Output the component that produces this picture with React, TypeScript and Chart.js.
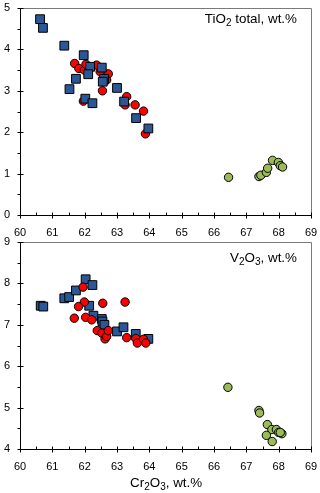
import React, { useEffect, useRef } from 'react';
import { Chart, registerables } from 'chart.js';
Chart.register(...registerables);

const FONT = "'Liberation Sans', Arial, sans-serif";

// TiO2 total panel
const blueX1 = [60.62, 60.71, 61.37, 61.97, 62.17, 62.11, 61.73, 61.53, 62.02, 62.24, 62.53, 62.60, 62.56, 63.00, 63.22, 63.59, 63.97];
const blueY1 = [4.73, 4.52, 4.09, 3.86, 3.58, 3.40, 3.29, 3.04, 2.81, 2.70, 3.56, 3.29, 3.22, 3.07, 2.74, 2.34, 2.09];
const redX1 = [61.69, 61.82, 61.99, 62.04, 62.37, 62.48, 62.73, 62.68, 62.55, 61.96, 63.30, 63.25, 63.56, 63.82, 63.88];
const redY1 = [3.66, 3.54, 3.50, 3.64, 3.62, 3.46, 3.41, 3.26, 3.00, 2.75, 2.86, 2.66, 2.66, 2.51, 1.96];
const greenX1 = [66.45, 67.39, 67.45, 67.62, 67.66, 67.81, 67.99, 68.05, 68.12];
const greenY1 = [0.91, 0.93, 0.96, 1.03, 1.13, 1.32, 1.27, 1.19, 1.16];

// V2O3 panel
const blueX2 = [60.64, 60.72, 61.37, 61.52, 61.73, 62.03, 62.24, 62.14, 62.27, 62.53, 62.55, 62.61, 63.00, 63.20, 63.58, 63.97];
const blueY2 = [7.46, 7.44, 7.64, 7.67, 7.83, 8.10, 7.96, 7.46, 7.22, 7.14, 7.08, 7.00, 6.84, 6.94, 6.78, 6.66];
const redX2 = [61.95, 61.99, 61.81, 61.68, 62.03, 62.22, 62.56, 63.25, 62.39, 62.53, 62.63, 62.68, 62.73, 63.30, 63.58, 63.63, 63.82, 63.89];
const redY2 = [7.91, 7.55, 7.44, 7.16, 7.18, 7.12, 7.52, 7.55, 6.86, 6.80, 6.66, 6.72, 6.86, 6.69, 6.67, 6.56, 6.65, 6.56];
const greenX2 = [66.43, 67.39, 67.41, 67.65, 67.79, 67.93, 68.00, 68.10, 67.62, 67.80, 68.05];
const greenY2 = [5.49, 4.93, 4.87, 4.59, 4.47, 4.47, 4.40, 4.37, 4.33, 4.18, 4.40];

const xMin = 60, xMax = 69;

const BLUE = '#2B5797';
const RED = '#FF0000';
const GREEN = '#9BBB59';

const pts = (xs: number[], ys: number[]) => xs.map((x, i) => ({ x, y: ys[i] }));

const framePlugin = {
  id: 'frame',
  afterDraw(chart: any) {
    const { ctx, chartArea: a, scales } = chart;
    const xs = scales.x, ys = scales.y;
    const p = (v: number) => Math.round(v) + 0.5;
    const L = p(a.left), R = p(a.right), T = p(a.top), B = p(a.bottom);
    ctx.save();
    ctx.lineWidth = 1;
    ctx.strokeStyle = '#7a7a7a';
    ctx.beginPath();
    ctx.moveTo(L, T); ctx.lineTo(R, T); ctx.lineTo(R, B);
    ctx.stroke();
    ctx.strokeStyle = '#000';
    ctx.beginPath();
    ctx.moveTo(L, T); ctx.lineTo(L, B); ctx.lineTo(R, B);
    for (let v = xs.min; v <= xs.max + 1e-9; v += 0.5) {
      const x = p(xs.getPixelForValue(v));
      const major = Math.abs(v - Math.round(v)) < 1e-6;
      ctx.moveTo(x, B - 3); ctx.lineTo(x, major ? B + 3 : B);
    }
    for (let v = ys.min; v <= ys.max + 1e-9; v += 0.5) {
      const y = p(ys.getPixelForValue(v));
      const major = Math.abs(v - Math.round(v)) < 1e-6;
      ctx.moveTo(major ? L + 3 : L, y); ctx.lineTo(L - 3, y);
    }
    ctx.stroke();
    ctx.restore();
  },
};

function makeConfig(datasets: any[], yMin: number, yMax: number, padTop: number, xHeight: number) {
  return {
    type: 'scatter',
    data: { datasets },
    options: {
      animation: false,
      responsive: false,
      maintainAspectRatio: false,
      layout: { padding: { top: padTop, right: 9, left: 0, bottom: 0 } },
      plugins: { legend: { display: false }, tooltip: { enabled: false } },
      scales: {
        x: {
          type: 'linear', min: xMin, max: xMax,
          grid: { display: false, drawTicks: false },
          border: { display: false },
          ticks: { stepSize: 1, padding: 11, color: '#000', font: { family: FONT, size: 11 } },
          afterFit: (s: any) => { s.height = xHeight; s.paddingLeft = 0; s.paddingRight = 0; },
        },
        y: {
          type: 'linear', min: yMin, max: yMax,
          grid: { display: false, drawTicks: false },
          border: { display: false },
          ticks: { stepSize: 1, padding: 10, color: '#000', font: { family: FONT, size: 11 } },
          afterFit: (s: any) => { s.width = 20; s.paddingTop = 0; s.paddingBottom = 0; },
        },
      },
    },
    plugins: [framePlugin],
  };
}

const sq = (data: any[], order: number) => ({
  data, order, pointStyle: 'rect', pointRadius: 6.2, backgroundColor: BLUE, borderColor: '#000', borderWidth: 1,
});
const circ = (data: any[], color: string, order: number) => ({
  data, order, pointStyle: 'circle', pointRadius: 4.2, backgroundColor: color, borderColor: '#000', borderWidth: 1,
});

function ChartCanvas({ config, width, height, style }: any) {
  const ref = useRef<HTMLCanvasElement>(null);
  useEffect(() => {
    const chart = new Chart(ref.current as HTMLCanvasElement, config);
    return () => chart.destroy();
  }, []);
  return <canvas ref={ref} width={width} height={height} style={{ position: 'absolute', display: 'block', width, height, ...style }} />;
}

const subStyle: React.CSSProperties = { fontSize: '10px', position: 'relative', top: '3px' };

export default function App() {
  const cfg1 = makeConfig([
    sq(pts(blueX1, blueY1), 0),
    circ(pts(redX1, redY1), RED, 1),
    circ(pts(greenX1, greenY1), GREEN, 2),
  ], 0, 5, 8, 25);
  const cfg2 = makeConfig([
    circ(pts(redX2, redY2), RED, 0),
    sq(pts(blueX2, blueY2), 1),
    circ(pts(greenX2, greenY2), GREEN, 2),
  ], 4, 9, 8, 44);
  const lbl: React.CSSProperties = { position: 'absolute', fontFamily: FONT, fontSize: '13.4px', lineHeight: '16px', color: '#000', whiteSpace: 'nowrap' };
  return (
    <div style={{ position: 'absolute', left: 0, top: 0, width: 320, height: 493, background: '#fff', overflow: 'hidden' }}>
      <ChartCanvas config={cfg1} width={320} height={240} style={{ left: 0, top: 0 }} />
      <ChartCanvas config={cfg2} width={320} height={259} style={{ left: 0, top: 234 }} />
      <div style={{ ...lbl, right: 23, top: 11 }}>TiO<span style={subStyle}>2</span> total, wt.%</div>
      <div style={{ ...lbl, right: 23, top: 250 }}>V<span style={subStyle}>2</span>O<span style={subStyle}>3</span>, wt.%</div>
      <div style={{ ...lbl, left: 130, top: 475 }}>Cr<span style={subStyle}>2</span>O<span style={subStyle}>3</span>, wt.%</div>
    </div>
  );
}
